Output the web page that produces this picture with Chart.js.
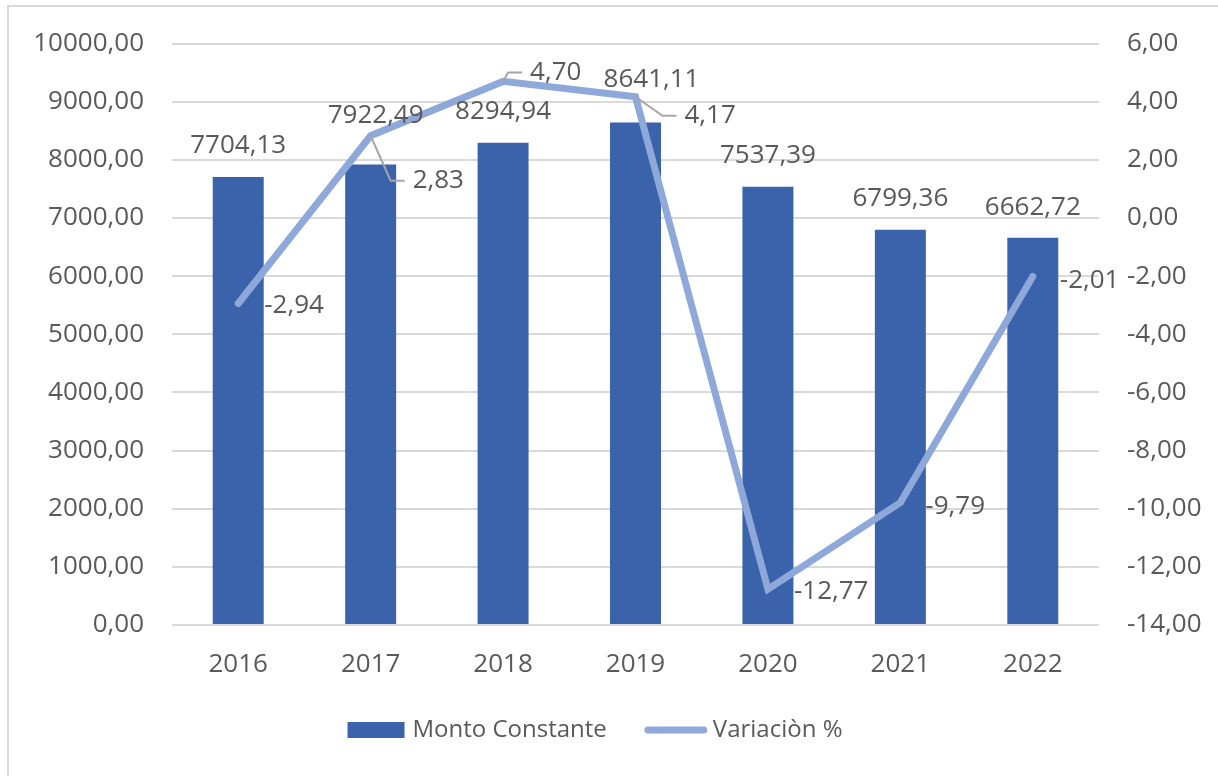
<!DOCTYPE html>
<html lang="es">
<head>
    <meta charset="UTF-8">
    <title>Monto Constante y Variación %</title>
    <script src="https://cdn.jsdelivr.net/npm/chart.js"></script>
    <style>
        html, body { margin: 0; padding: 0; background: #ffffff; }
        #wrap { width: 1218px; height: 776px; position: relative; }
    </style>
</head>
<body>
<div id="wrap"><canvas id="chart" width="1218" height="776"></canvas></div>
<script>
    // datos
    const years = ['2016', '2017', '2018', '2019', '2020', '2021', '2022'];
    const montoConstante = [7704.13, 7922.49, 8294.94, 8641.11, 7537.39, 6799.36, 6662.72];
    const variacion = [-2.94, 2.83, 4.70, 4.17, -12.77, -9.79, -2.01];
    const montoTicks = { min: 0, max: 10000, step: 1000 };
    const variacionTicks = { min: -14, max: 6, step: 2 };

    const textColor = '#595959';
    const barColor = '#3A63AC';
    const lineColor = '#8FA8DA';
    const fontFamily = "'Open Sans', 'Noto Sans', sans-serif";

    // desplazamiento de etiquetas (px) respecto al punto/barra
    const barLabelShift = [[0, -31], [5, -49], [0, -31], [16, -43], [0, -31], [0, -31], [0, -30]];
    const lineLabelShift = [[26, 2, false], [42, 45, true], [27, -9, true], [49, 19, true], [26, 2, false], [25, 4, false], [27, 4, false]];

    const fmt = v => v.toFixed(2).replace('.', ',');

    // marco del gráfico
    const framePlugin = {
        id: 'frame',
        beforeDraw(chart) {
            const ctx = chart.ctx;
            ctx.save();
            ctx.strokeStyle = '#D9D9D9';
            ctx.lineWidth = 2;
            ctx.beginPath();
            ctx.moveTo(8, chart.height);
            ctx.lineTo(8, 6);
            ctx.lineTo(chart.width, 6);
            ctx.stroke();
            ctx.restore();
        }
    };

    // etiquetas de datos
    const labelsPlugin = {
        id: 'valueLabels',
        afterDatasetsDraw(chart) {
            const ctx = chart.ctx;
            ctx.save();
            ctx.font = '26px ' + fontFamily;
            ctx.fillStyle = textColor;
            ctx.textBaseline = 'middle';

            const barMeta = chart.getDatasetMeta(0);
            ctx.textAlign = 'center';
            barMeta.data.forEach((el, i) => {
                const s = barLabelShift[i];
                ctx.fillText(fmt(montoConstante[i]), el.x + s[0], el.y + s[1]);
            });

            const lineMeta = chart.getDatasetMeta(1);
            ctx.textAlign = 'left';
            lineMeta.data.forEach((el, i) => {
                const s = lineLabelShift[i];
                const lx = el.x + s[0];
                const ly = el.y + s[1];
                if (s[2]) {
                    ctx.strokeStyle = '#A6A6A6';
                    ctx.lineWidth = 2;
                    ctx.beginPath();
                    ctx.moveTo(el.x, el.y);
                    ctx.lineTo(lx - 22, ly);
                    ctx.lineTo(lx - 8, ly);
                    ctx.stroke();
                }
                ctx.fillText(fmt(variacion[i]), lx, ly);
            });
            ctx.restore();
        }
    };

    // leyenda
    const legendPlugin = {
        id: 'customLegend',
        afterDraw(chart) {
            const ctx = chart.ctx;
            const ds = chart.data.datasets;
            ctx.save();
            ctx.font = '24px ' + fontFamily;
            ctx.textBaseline = 'middle';
            ctx.textAlign = 'left';
            const symW = [57, 64];
            const gaps = [8, 5], itemGap = 37;
            const widths = ds.map((d, i) => symW[i] + gaps[i] + ctx.measureText(d.label).width);
            const total = widths[0] + widths[1] + itemGap;
            let x = chart.width / 2 - 14 - total / 2;
            const y = 730;
            ds.forEach((d, i) => {
                if (d.type === 'bar') {
                    ctx.fillStyle = d.backgroundColor;
                    ctx.fillRect(x, y - 8, symW[i], 16);
                } else {
                    ctx.strokeStyle = d.borderColor;
                    ctx.lineWidth = 7;
                    ctx.lineCap = 'round';
                    ctx.beginPath();
                    ctx.moveTo(x + 4, y);
                    ctx.lineTo(x + symW[i] - 4, y);
                    ctx.stroke();
                }
                ctx.fillStyle = textColor;
                ctx.fillText(d.label, x + symW[i] + gaps[i], y);
                x += widths[i] + itemGap;
            });
            ctx.restore();
        }
    };

    const ctx = document.getElementById('chart').getContext('2d');
    new Chart(ctx, {
        data: {
            labels: years,
            datasets: [{
                type: 'bar',
                label: 'Monto Constante',
                data: montoConstante,
                backgroundColor: barColor,
                yAxisID: 'y',
                categoryPercentage: 1,
                barPercentage: 0.385,
                order: 2
            }, {
                type: 'line',
                label: 'Variaciòn %',
                data: variacion,
                borderColor: lineColor,
                backgroundColor: lineColor,
                borderWidth: 7,
                borderCapStyle: 'round',
                pointRadius: 0,
                tension: 0,
                yAxisID: 'y1',
                order: 1
            }]
        },
        options: {
            responsive: false,
            animation: false,
            layout: { padding: { top: 43, bottom: 91, left: 0, right: 0 } },
            plugins: {
                legend: { display: false },
                tooltip: { enabled: false }
            },
            scales: {
                x: {
                    offset: true,
                    grid: { display: false },
                    border: { display: false },
                    ticks: { color: textColor, font: { family: fontFamily, size: 26 }, padding: 16 },
                    afterFit(scale) { scale.height = 60; }
                },
                y: {
                    position: 'left',
                    min: montoTicks.min,
                    max: montoTicks.max,
                    grid: { color: '#D9D9D9', lineWidth: 2, drawTicks: false },
                    border: { display: false },
                    ticks: {
                        stepSize: montoTicks.step,
                        color: textColor,
                        font: { family: fontFamily, size: 26 },
                        padding: 28,
                        callback: v => fmt(v)
                    },
                    afterFit(scale) { scale.width = 172; }
                },
                y1: {
                    position: 'right',
                    min: variacionTicks.min,
                    max: variacionTicks.max,
                    grid: { display: false, drawTicks: false },
                    border: { display: false },
                    ticks: {
                        stepSize: variacionTicks.step,
                        color: textColor,
                        font: { family: fontFamily, size: 26 },
                        padding: 28,
                        callback: v => fmt(v)
                    },
                    afterFit(scale) { scale.width = 119; }
                }
            }
        },
        plugins: [framePlugin, labelsPlugin, legendPlugin]
    });
</script>
</body>
</html>
